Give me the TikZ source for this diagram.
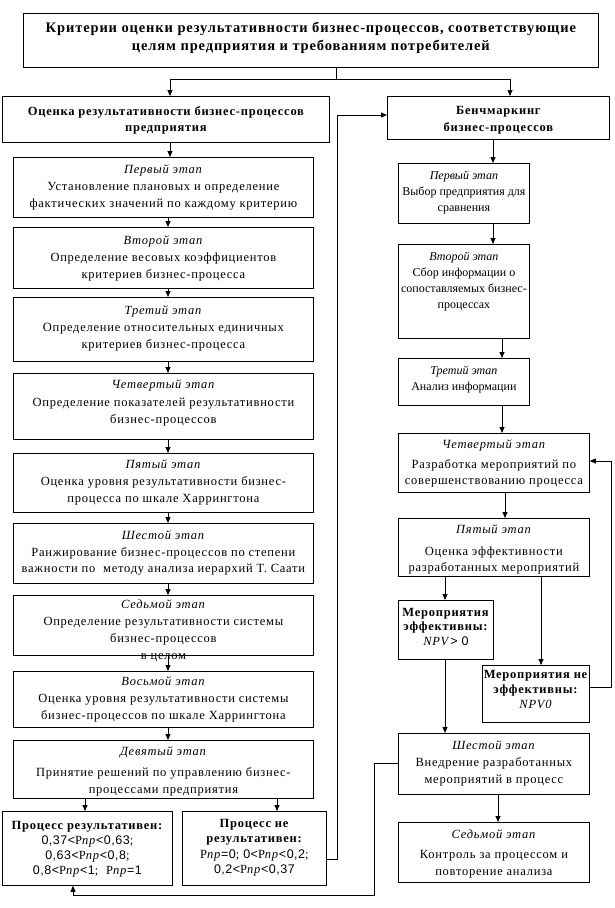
\documentclass[tikz,border=0pt]{standalone}
\usepackage{fontspec}
\setmainfont[LetterSpace=6]{Liberation Serif}
\newfontfamily\sansd[LetterSpace=4]{Liberation Sans}
\usetikzlibrary{arrows.meta}
\tikzset{
  bx/.style={draw, line width=0.8pt, inner sep=0pt, anchor=north west},
  ar/.style={draw, line width=0.8pt, -{Triangle[width=5pt,length=6pt]}},
  ln/.style={draw, line width=0.8pt},
}
\newcommand\mybox[8]{\node[bx] (#1) at (#2,#3) {\parbox[c][\dimexpr #5pt-#3pt\relax][t]{\dimexpr #4pt-#2pt\relax}{\centering\fontsize{12.5}{#7}\selectfont\rule{0pt}{#6pt}#8\par}};}
\newcommand\Pnp{P\textit{пр}}
\newcommand\sd[1]{{\sansd #1}}
\newcommand\narrowtext{\addfontfeature{LetterSpace=0}\fontsize{12}{16}\selectfont}
\begin{document}
\begin{tikzpicture}[x=1pt,y=-1pt]
\useasboundingbox (0,0) rectangle (614,908);
% top
\mybox{top}{23}{13}{598}{67}{19.5}{18}{\fontsize{14.5}{18}\selectfont\bfseries Критерии оценки результативности бизнес-процессов, соответствующие\\целям предприятия и требованиям потребителей}
% headers
\mybox{hl}{2}{96}{329}{142}{19}{16}{\bfseries Оценка результативности бизнес-процессов\\предприятия}
\mybox{hr}{387}{96}{609}{139}{18}{17}{\bfseries Бенчмаркинг\\бизнес-процессов}
% left stages
\mybox{l1}{13}{157}{313}{217}{16.5}{17}{\textit{Первый этап}\\Установление плановых и определение\\фактических значений по каждому критерию}
\mybox{l2}{13}{227}{313}{288}{17.5}{17}{\textit{Второй этап}\\Определение весовых коэффициентов\\критериев бизнес-процесса}
\mybox{l3}{13}{297}{313}{361}{17.5}{17}{\textit{Третий этап}\\Определение относительных единичных\\критериев бизнес-процесса}
\mybox{l4}{13}{373}{313}{439}{15.5}{17.5}{\textit{Четвертый этап}\\Определение показателей результативности\\бизнес-процессов}
\mybox{l5}{13}{453}{313}{512}{15.5}{17}{\textit{Пятый этап}\\Оценка уровня результативности бизнес-\\процесса по шкале Харрингтона}
\mybox{l6}{13}{523}{313}{583}{16.5}{16.5}{\textit{Шестой этап}\\Ранжирование бизнес-процессов по степени\\важности по\ \ методу анализа иерархий Т. Саати}
\mybox{l7}{13}{595}{313}{655}{13.5}{17}{\textit{Седьмой этап}\\Определение результативности системы\\бизнес-процессов\\в целом}
\mybox{l8}{13}{671}{313}{727}{14.5}{17}{\textit{Восьмой этап}\\Оценка уровня результативности системы\\бизнес-процессов по шкале Харрингтона}
\mybox{l9}{13}{740}{313}{798}{15.5}{17}{\textit{Девятый этап}\\[4pt]Принятие решений по управлению бизнес-\\процессами предприятия}
\mybox{ok}{2}{811}{172}{885}{18}{15}{\textbf{Процесс результативен:}\\\sd{0,37<}\Pnp\sd{<0,63};\\\sd{0,63<}\Pnp\sd{<0,8};\\\sd{0,8<}\Pnp\sd{<1};\ \ \Pnp\sd{=1}}
\mybox{nok}{182}{811}{326}{885}{16}{15.5}{\textbf{Процесс не}\\\textbf{результативен:}\\\Pnp\sd{=0}; \sd{0<}\Pnp\sd{<0,2};\\\sd{0,2<}\Pnp\sd{<0,37}}
% right stages
\mybox{r1}{398}{163}{529}{223}{16.5}{16}{\narrowtext\textit{Первый этап}\\Выбор предприятия для\\сравнения}
\mybox{r2}{398}{244}{529}{338}{16.5}{16}{\narrowtext\textit{Второй этап}\\Сбор информации о\\сопоставляемых бизнес-\\процессах}
\mybox{r3}{398}{358}{529}{405}{16.5}{15}{\narrowtext\textit{Третий этап}\\Анализ информации}
\mybox{r4}{398}{433}{589}{492}{15.5}{16}{\textit{Четвертый этап}\\[4pt]Разработка мероприятий по\\совершенствованию процесса}
\mybox{r5}{398}{518}{589}{576}{15.5}{16}{\textit{Пятый этап}\\[6pt]Оценка эффективности\\разработанных мероприятий}
\mybox{ef}{398}{600}{493}{659}{16}{14.5}{\textbf{Мероприятия}\\\textbf{эффективны:}\\\textit{NPV}\sd{> 0}}
\mybox{nef}{482}{665}{589}{722}{13}{15}{\textbf{Мероприятия не}\\\textbf{эффективны:}\\\textit{NPV0}}
\mybox{r6}{398}{733}{589}{794}{16.5}{17}{\textit{Шестой этап}\\Внедрение разработанных\\мероприятий в процесс}
\mybox{r7}{398}{822}{589}{882}{16.5}{17}{\textit{Седьмой этап}\\[3pt]Контроль за процессом и\\повторение анализа}
% connectors
\coordinate (jt) at (336,79);
\coordinate (jl) at (170,79);
\coordinate (jr) at (510,79);
\draw[ln] (top.south -| jt) -- (jt);
\draw[ar] (jt) -| (jl |- hl.north);
\draw[ar] (jt) -| (jr |- hr.north);
\draw[ar] (170,0 |- hl.south) -- (170,0 |- l1.north);
\draw[ar] (168,0 |- l1.south) -- (168,0 |- l2.north);
\draw[ar] (168,0 |- l2.south) -- (168,0 |- l3.north);
\draw[ar] (168,0 |- l3.south) -- (168,0 |- l4.north);
\draw[ar] (168,0 |- l4.south) -- (168,0 |- l5.north);
\draw[ar] (168,0 |- l5.south) -- (168,0 |- l6.north);
\draw[ar] (168,0 |- l6.south) -- (168,0 |- l7.north);
\draw[ar] (168,0 |- l7.south) -- (168,0 |- l8.north);
\draw[ar] (168,0 |- l8.south) -- (168,0 |- l9.north);
\draw[ar] (85,0 |- l9.south) -- (85,0 |- ok.north);
\draw[ar] (277,0 |- l9.south) -- (277,0 |- nok.north);
% feedback from nok to benchmarking
\coordinate (fa) at (337,859);
\coordinate (fb) at (337,115);
\draw[ar] (nok.east |- fa) -- (fa) -- (fb) -- (hr.west |- fb);
% right column
\draw[ar] (493,0 |- hr.south) -- (493,0 |- r1.north);
\draw[ar] (493,0 |- r1.south) -- (493,0 |- r2.north);
\draw[ar] (502,0 |- r2.south) -- (502,0 |- r3.north);
\draw[ar] (502,0 |- r3.south) -- (502,0 |- r4.north);
\draw[ar] (505,0 |- r4.south) -- (505,0 |- r5.north);
\draw[ar] (445,0 |- r5.south) -- (445,0 |- ef.north);
\draw[ar] (541,0 |- r5.south) -- (541,0 |- nef.north);
\draw[ar] (445,0 |- ef.south) -- (445,0 |- r6.north);
\draw[ar] (498,0 |- r6.south) -- (498,0 |- r7.north);
% loop back to fourth stage
\coordinate (ga) at (611,687);
\coordinate (gb) at (611,461);
\draw[ar] (nef.east |- ga) -- (ga) -- (gb) -- (r4.east |- gb);
% from sixth stage to effective process
\coordinate (ha) at (374,763);
\coordinate (hb) at (374,895);
\coordinate (hc) at (73,895);
\draw[ar] (r6.west |- ha) -- (ha) -- (hb) -- (hc) -- (hc |- ok.south);
\end{tikzpicture}
\end{document}
